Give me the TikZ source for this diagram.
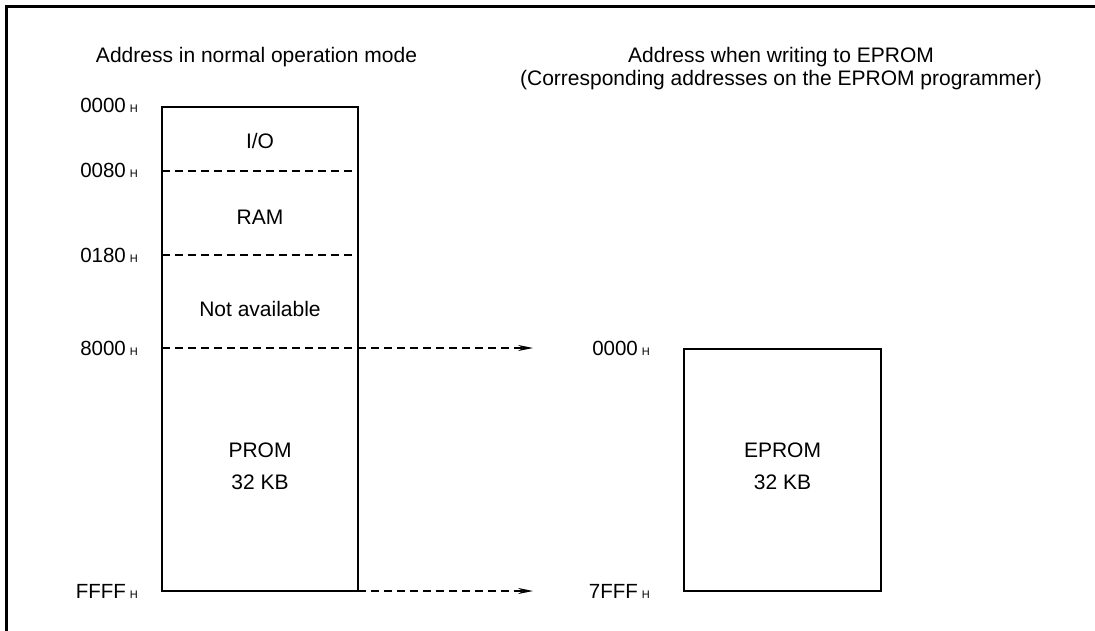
\documentclass[tikz,border=0pt]{standalone}
\usepackage{fontspec}
\setmainfont{Liberation Sans}
\usetikzlibrary{arrows.meta}

\tikzset{
	txt/.style = {inner sep = 0pt, anchor = base, font = \fontsize{21}{25}\selectfont},
	adr/.style = {txt, anchor = base east, font = \fontsize{20.5}{24}\selectfont},
	blk/.style = {draw, line width = 2.2pt, inner sep = 0pt, outer sep = 0pt},
	sep/.style = {line width = 1.1pt, dash pattern = on 8pt off 5pt},
	map/.style = {sep, -{Stealth[length = 15pt, width = 6pt]}}
}
\newcommand{\hx}[1]{#1\hspace{4pt}{\fontsize{11}{12}\selectfont H}}

\begin{document}
\begin{tikzpicture}[x = 1pt, y = -1pt]
	\useasboundingbox (0,0) rectangle (1095,631);
	\draw[line width = 3pt] (6.5,631) |- (1095,6.5);

	\node[txt] (hnorm) at (256.5,63) {Address in normal operation mode};
	\node[txt] (hprog) at (781,63) {Address when writing to EPROM};
	\node[txt] (hprogb) at (781,86) {(Corresponding addresses on the EPROM programmer)};

	\node[blk, minimum width = 196pt, minimum height = 484pt] (norm) at (260,349) {};
	\node[blk, minimum width = 197pt, minimum height = 242.5pt] (prog) at (782.5,470) {};

	\node[adr] (a0000) at (138,113) {\hx{0000}};
	\node[adr] (a0080) at (138,178) {\hx{0080}};
	\node[adr] (a0180) at (138,262) {\hx{0180}};
	\node[adr] (a8000) at (138,355) {\hx{8000}};
	\node[adr] (aFFFF) at (138,598) {\hx{FFFF}};
	\node[adr] (b0000) at (650,355) {\hx{0000}};
	\node[adr] (b7FFF) at (650,598) {\hx{7FFF}};

	\node[txt] (io) at (260,149) {I/O};
	\node[txt] (ram) at (260,225) {RAM};
	\node[txt] (na) at (260,316) {Not available};
	\node[txt] (prom) at (260,457) {PROM};
	\node[txt] (promsz) at (260,489) {32 KB};
	\node[txt] (eprom) at (782.5,457) {EPROM};
	\node[txt] (epromsz) at (782.5,489) {32 KB};

	\coordinate (tiptop) at (533,348);
	\coordinate (tipbot) at (533,591);

	\draw[sep] (norm.west |- 0,171) -- (norm.east |- 0,171);
	\draw[sep] (norm.west |- 0,255) -- (norm.east |- 0,255);
	\draw[sep] (norm.west |- tiptop) -- (norm.east |- tiptop);
	\draw[map] (norm.east |- tiptop) -- (tiptop);
	\draw[map] (norm.south east) -- (tipbot);
\end{tikzpicture}
\end{document}
